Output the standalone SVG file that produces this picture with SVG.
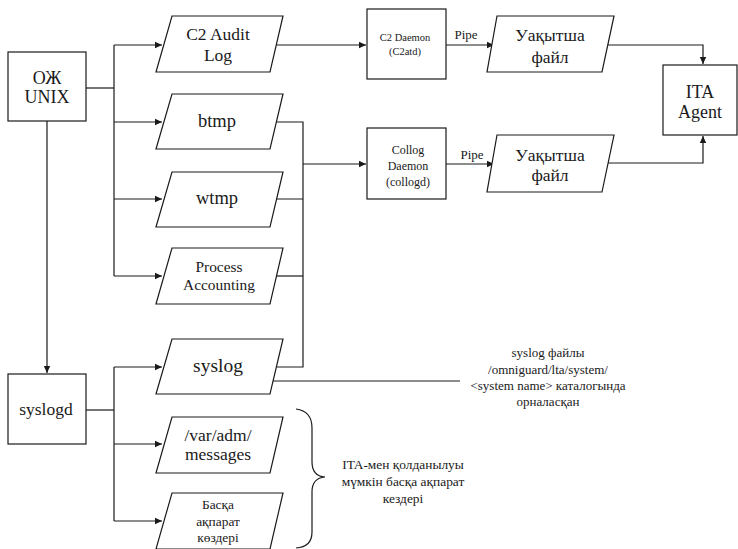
<svg xmlns="http://www.w3.org/2000/svg" width="738" height="549" viewBox="0 0 738 549">
  <style>
    .box { fill: #fff; stroke: #1a1a1a; stroke-width: 1.2; }
    .wire { fill: none; stroke: #1a1a1a; stroke-width: 1.2; }
    .t { font-family: 'Liberation Serif', 'DejaVu Serif', serif; fill: #1a1a1a; text-anchor: middle; }
  </style>
  <defs>
    <marker id="arr" markerWidth="8" markerHeight="8" refX="7" refY="4" orient="auto" markerUnits="userSpaceOnUse">
      <path d="M0,0.8 L7,4 L0,7.2 Z" fill="#1a1a1a"/>
    </marker>
  </defs>
  <rect width="738" height="549" fill="#fff"/>

  <g id="connectors">
    <!-- OS trunk -->
    <path class="wire" d="M86,88 H114"/>
    <path class="wire" d="M114,45 V276"/>
    <path class="wire" d="M114,45 H162" marker-end="url(#arr)"/>
    <path class="wire" d="M114,122 H162" marker-end="url(#arr)"/>
    <path class="wire" d="M114,199 H162" marker-end="url(#arr)"/>
    <path class="wire" d="M114,276 H162" marker-end="url(#arr)"/>
    <path class="wire" d="M47,121 V373" marker-end="url(#arr)"/>
    <!-- syslogd trunk -->
    <path class="wire" d="M86,410 H114"/>
    <path class="wire" d="M114,367 V521"/>
    <path class="wire" d="M114,367 H162" marker-end="url(#arr)"/>
    <path class="wire" d="M114,444 H162" marker-end="url(#arr)"/>
    <path class="wire" d="M114,521 H162" marker-end="url(#arr)"/>
    <!-- collection bus -->
    <path class="wire" d="M277,122 H303 V367 H277"/>
    <path class="wire" d="M268,199 H303"/>
    <path class="wire" d="M272,276 H303"/>
    <path class="wire" d="M303,164 H366" marker-end="url(#arr)"/>
    <!-- daemon inputs and pipes -->
    <path class="wire" d="M277,45 H366" marker-end="url(#arr)"/>
    <path class="wire" d="M446,45 H494" marker-end="url(#arr)"/>
    <path class="wire" d="M446,164 H494" marker-end="url(#arr)"/>
    <!-- to agent -->
    <path class="wire" d="M608,45 H703 V64" marker-end="url(#arr)"/>
    <path class="wire" d="M608,163 H703 V136" marker-end="url(#arr)"/>
    <!-- syslog location note -->
    <path class="wire" d="M273,381 H460"/>
    <!-- brace -->
    <path class="wire" d="M296,409 Q312,411 312,428 V462 Q312,476 325,477 Q312,478 312,492 V532 Q312,547 296,548"/>
  </g>

  <g id="os-unix">
    <rect class="box" x="8" y="52" width="78" height="69"/>
    <text class="t" x="47" y="84" font-size="18">ОЖ</text>
    <text class="t" x="47" y="103" font-size="18">UNIX</text>
  </g>

  <g id="c2-audit-log">
    <polygon class="box" points="172,16 283,16 270,72 156,72"/>
    <text class="t" x="218" y="40" font-size="17.5">C2 Audit</text>
    <text class="t" x="218" y="61" font-size="17.5">Log</text>
  </g>

  <g id="btmp">
    <polygon class="box" points="172,94 283,94 270,149 156,149"/>
    <text class="t" x="217" y="127" font-size="18.5">btmp</text>
  </g>

  <g id="wtmp">
    <polygon class="box" points="172,172 283,172 270,227 156,227"/>
    <text class="t" x="217" y="204" font-size="18.5">wtmp</text>
  </g>

  <g id="process-accounting">
    <polygon class="box" points="172,248 283,248 270,304 156,304"/>
    <text class="t" x="219" y="272" font-size="15.4">Process</text>
    <text class="t" x="219" y="290" font-size="15.4">Accounting</text>
  </g>

  <g id="syslogd">
    <rect class="box" x="8" y="374" width="78" height="70"/>
    <text class="t" x="46" y="415" font-size="17.5">syslogd</text>
  </g>

  <g id="syslog">
    <polygon class="box" points="172,339 283,339 270,394 156,394"/>
    <text class="t" x="218" y="372" font-size="19.5">syslog</text>
  </g>

  <g id="var-adm-messages">
    <polygon class="box" points="172,417 283,417 270,473 156,473"/>
    <text class="t" x="218" y="441" font-size="17.5">/var/adm/</text>
    <text class="t" x="218" y="460" font-size="17.5">messages</text>
  </g>

  <g id="other-sources">
    <polygon class="box" points="172,493 283,493 270,549 156,549"/>
    <text class="t" x="218" y="509" font-size="13.4">Басқа</text>
    <text class="t" x="218" y="526" font-size="13.4">ақпарат</text>
    <text class="t" x="218" y="542" font-size="13.4">көздері</text>
  </g>

  <g id="c2-daemon">
    <rect class="box" x="367" y="9" width="79" height="70"/>
    <text class="t" x="405" y="41" font-size="10.5">C2 Daemon</text>
    <text class="t" x="405" y="55" font-size="10.5">(C2atd)</text>
  </g>

  <g id="collog-daemon">
    <rect class="box" x="367" y="128" width="79" height="71"/>
    <text class="t" x="408" y="154" font-size="12">Collog</text>
    <text class="t" x="408" y="170" font-size="12">Daemon</text>
    <text class="t" x="408" y="186" font-size="12">(collogd)</text>
  </g>

  <g id="pipe-labels">
    <text class="t" x="466" y="39" font-size="13">Pipe</text>
    <text class="t" x="472" y="159" font-size="13">Pipe</text>
  </g>

  <g id="temp-file-1">
    <polygon class="box" points="497,16 614,16 602,72 487,72"/>
    <text class="t" x="550" y="41" font-size="17.5">Уақытша</text>
    <text class="t" x="550" y="63" font-size="17.5">файл</text>
  </g>

  <g id="temp-file-2">
    <polygon class="box" points="497,135 614,135 602,192 487,192"/>
    <text class="t" x="550" y="161" font-size="17.5">Уақытша</text>
    <text class="t" x="550" y="181" font-size="17.5">файл</text>
  </g>

  <g id="ita-agent">
    <rect class="box" x="663" y="65" width="74" height="70"/>
    <text class="t" x="700" y="98" font-size="18">ITA</text>
    <text class="t" x="700" y="118" font-size="18">Agent</text>
  </g>

  <g id="syslog-note">
    <text class="t" x="548" y="357" font-size="13">syslog файлы</text>
    <text class="t" x="548" y="374" font-size="13">/omniguard/lta/system/</text>
    <text class="t" x="548" y="390" font-size="13">&lt;system name&gt; каталогында</text>
    <text class="t" x="548" y="406" font-size="13">орналасқан</text>
  </g>

  <g id="sources-note">
    <text class="t" x="403" y="469" font-size="13.4">ITA-мен қолданылуы</text>
    <text class="t" x="403" y="486" font-size="13.4">мүмкін басқа ақпарат</text>
    <text class="t" x="403" y="503" font-size="13.4">кездері</text>
  </g>
</svg>
